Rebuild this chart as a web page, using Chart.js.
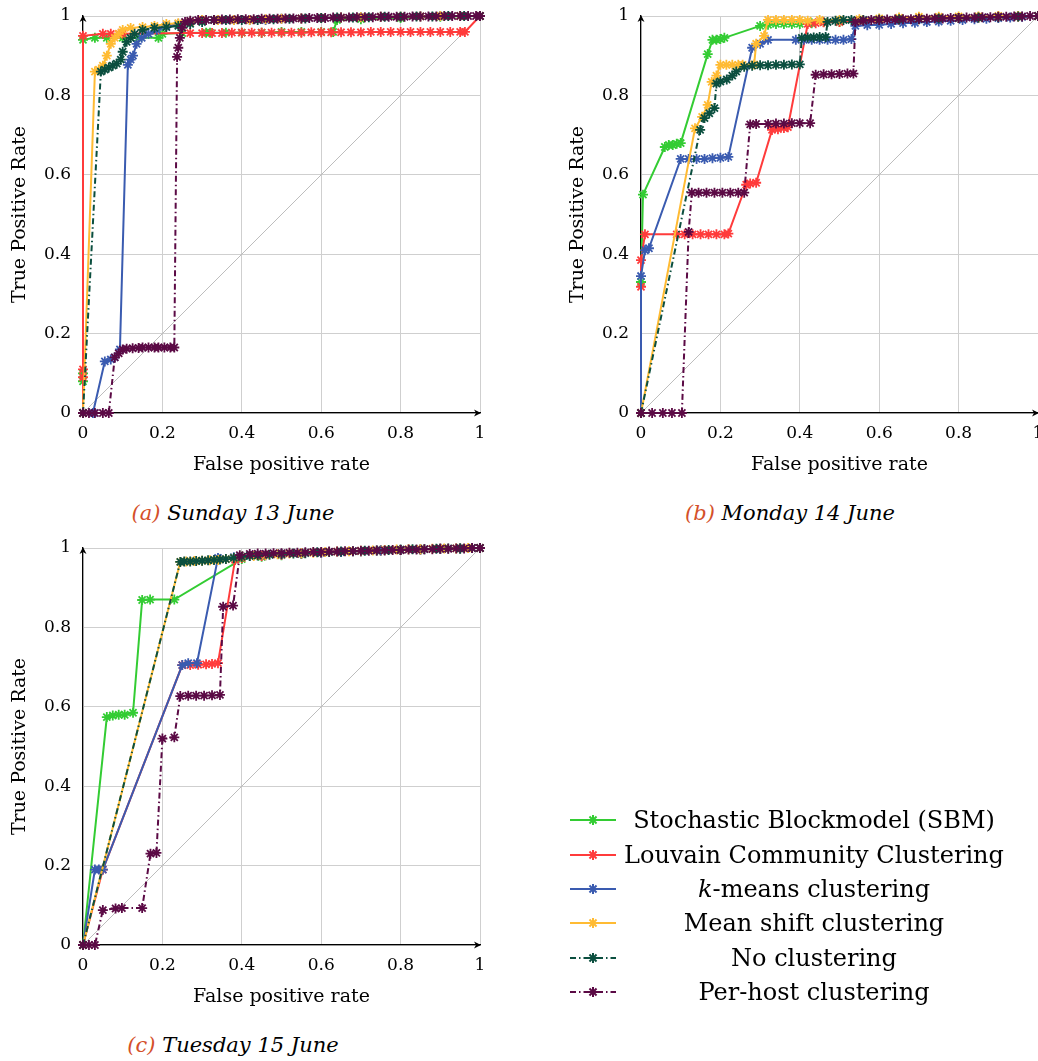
<!DOCTYPE html>
<html>
<head>
<meta charset="utf-8">
<script src="https://cdn.jsdelivr.net/npm/chart.js@4.4.0/dist/chart.umd.min.js"></script>
<style>
  body { margin: 0; background: #fff; font-family: "DejaVu Serif", serif; }
  #page { position: relative; width: 1038px; height: 1061px; overflow: hidden; }
  .plot { position: absolute; }
  .caption { position: absolute; width: 400px; text-align: center; font-style: italic; font-size: 21px; color: #000; }
  .caption span { color: #d4502a; }
  #legend { position: absolute; left: 560px; top: 803px; width: 448px; }
  .row { height: 34.4px; display: flex; align-items: center; }
  .row canvas { width: 60px; height: 20px; }
  .row .txt { flex: 1; text-align: center; font-size: 24px; color: #000; white-space: nowrap; }
</style>
</head>
<body>
<div id="page">
  <canvas id="sun" class="plot" width="500" height="480" style="left:0;top:0"></canvas>
  <canvas id="mon" class="plot" width="480" height="480" style="left:558px;top:0"></canvas>
  <canvas id="tue" class="plot" width="500" height="480" style="left:0;top:532px"></canvas>
  <div class="caption" style="left:33px;top:501px"><span>(a)</span> Sunday 13 June</div>
  <div class="caption" style="left:590px;top:501px"><span>(b)</span> Monday 14 June</div>
  <div class="caption" style="left:33px;top:1033px"><span>(c)</span> Tuesday 15 June</div>
  <div id="legend"></div>
</div>
<script>
// series names, in legend order
const seriesNames = ['Stochastic Blockmodel (SBM)', 'Louvain Community Clustering', 'k-means clustering',
  'Mean shift clustering', 'No clustering', 'Per-host clustering'];
const tickLabels = ['0', '0.2', '0.4', '0.6', '0.8', '1'];
const diagonal = [[0, 0], [1, 1]];

// (a) Sunday 13 June  -- [false positive rate, true positive rate]
const sunSBM = [[0,0],[0,0.08],[0,0.1],[0,0.94],[0.03,0.945],[0.06,0.945],[0.1,0.945],[0.14,0.945],[0.19,0.945],
  [0.2,0.955],[0.25,0.957],[0.31,0.958],[0.32,0.958],[0.36,0.958],[0.4,0.958],[0.45,0.958],[0.5,0.96],[0.55,0.96],
  [0.6,0.96],[0.63,0.96],[0.64,0.99],[0.7,0.992],[0.8,0.995],[0.9,0.998],[1,1]];
const sunLouvain = [[0,0],[0,0.09],[0,0.11],[0,0.95],[0.05,0.955],[0.07,0.955],[0.09,0.955],[0.1,0.955],[0.27,0.957],
  [0.3,0.957],[0.325,0.957],[0.35,0.957],[0.375,0.958],[0.4,0.958],[0.425,0.958],[0.45,0.958],[0.475,0.958],[0.5,0.958],
  [0.525,0.958],[0.55,0.958],[0.575,0.959],[0.6,0.959],[0.625,0.959],[0.65,0.959],[0.675,0.959],[0.7,0.959],[0.725,0.96],
  [0.75,0.96],[0.775,0.96],[0.8,0.96],[0.825,0.96],[0.85,0.96],[0.875,0.96],[0.9,0.96],[0.925,0.96],[0.95,0.96],
  [0.962,0.96],[1,1]];
const sunKmeans = [[0,0],[0.025,0],[0.055,0.13],[0.07,0.135],[0.08,0.14],[0.093,0.16],[0.113,0.877],[0.12,0.89],
  [0.126,0.9],[0.135,0.93],[0.148,0.945],[0.165,0.955],[0.186,0.965],[0.21,0.975],[0.24,0.98],[0.27,0.985],[0.3,0.99],
  [0.34,0.99],[0.38,0.99],[0.42,0.99],[0.46,0.99],[0.5,0.993],[0.55,0.994],[0.6,0.995],[0.65,0.996],[0.7,0.997],
  [0.75,0.998],[0.8,0.998],[0.85,0.999],[0.9,1],[0.95,1],[1,1]];
const sunMean = [[0,0],[0.03,0.86],[0.04,0.865],[0.05,0.875],[0.06,0.9],[0.07,0.93],[0.08,0.945],[0.09,0.955],
  [0.1,0.965],[0.12,0.97],[0.15,0.972],[0.18,0.975],[0.21,0.98],[0.24,0.982],[0.27,0.985],[0.3,0.99],[0.34,0.99],
  [0.38,0.99],[0.42,0.99],[0.46,0.992],[0.5,0.993],[0.55,0.994],[0.6,0.995],[0.65,0.996],[0.7,0.997],[0.75,0.998],
  [0.8,0.998],[0.85,0.999],[0.9,1],[0.95,1],[1,1]];
const sunNone = [[0,0],[0.045,0.86],[0.055,0.865],[0.065,0.87],[0.075,0.875],[0.085,0.88],[0.095,0.89],[0.1,0.91],
  [0.11,0.935],[0.12,0.945],[0.13,0.955],[0.15,0.965],[0.18,0.97],[0.21,0.972],[0.24,0.975],[0.27,0.98],[0.3,0.985],
  [0.33,0.99],[0.36,0.99],[0.4,0.99],[0.44,0.99],[0.48,0.992],[0.52,0.993],[0.56,0.994],[0.6,0.995],[0.64,0.996],
  [0.68,0.996],[0.72,0.997],[0.76,0.998],[0.8,0.998],[0.84,0.999],[0.88,0.999],[0.92,1],[0.96,1],[1,1]];
const sunPerHost = [[0,0],[0.015,0],[0.03,0],[0.05,0],[0.065,0],[0.08,0.14],[0.09,0.15],[0.1,0.16],[0.11,0.162],
  [0.125,0.163],[0.14,0.164],[0.15,0.165],[0.165,0.165],[0.18,0.165],[0.19,0.165],[0.205,0.165],[0.22,0.165],
  [0.23,0.165],[0.237,0.897],[0.24,0.92],[0.244,0.945],[0.25,0.97],[0.257,0.985],[0.27,0.988],[0.29,0.99],[0.31,0.99],
  [0.33,0.99],[0.35,0.991],[0.37,0.991],[0.39,0.992],[0.41,0.992],[0.43,0.992],[0.45,0.993],[0.47,0.993],[0.49,0.993],
  [0.51,0.994],[0.53,0.994],[0.55,0.994],[0.57,0.995],[0.59,0.995],[0.61,0.995],[0.63,0.996],[0.65,0.996],[0.67,0.996],
  [0.69,0.997],[0.71,0.997],[0.73,0.997],[0.75,0.998],[0.77,0.998],[0.79,0.998],[0.81,0.998],[0.83,0.999],[0.85,0.999],
  [0.87,0.999],[0.89,0.999],[0.91,1],[0.93,1],[0.95,1],[0.97,1],[0.99,1],[1,1]];

// (b) Monday 14 June
const monSBM = [[0,0],[0,0.33],[0.005,0.55],[0.06,0.67],[0.07,0.675],[0.08,0.675],[0.09,0.678],[0.1,0.68],
  [0.168,0.904],[0.18,0.94],[0.19,0.94],[0.2,0.942],[0.21,0.945],[0.3,0.975],[0.32,0.978],[0.34,0.98],[0.36,0.98],
  [0.38,0.98],[0.4,0.98],[0.43,0.982],[0.46,0.985],[0.5,0.985],[0.55,0.987],[0.6,0.99],[0.65,0.99],[0.7,0.992],
  [0.75,0.994],[0.8,0.995],[0.85,0.996],[0.9,0.998],[0.95,0.999],[1,1]];
const monLouvain = [[0,0],[0,0.318],[0,0.385],[0.01,0.45],[0.09,0.45],[0.11,0.45],[0.13,0.45],[0.15,0.45],
  [0.17,0.45],[0.19,0.45],[0.21,0.45],[0.22,0.452],[0.265,0.575],[0.275,0.578],[0.29,0.58],[0.33,0.713],
  [0.345,0.715],[0.36,0.718],[0.37,0.72],[0.42,0.98],[0.44,0.982],[0.46,0.984],[0.5,0.985],[0.55,0.987],[0.6,0.988],
  [0.65,0.99],[0.7,0.992],[0.75,0.993],[0.8,0.995],[0.85,0.996],[0.9,0.997],[0.95,0.999],[1,1]];
const monKmeans = [[0,0],[0,0.345],[0.01,0.41],[0.02,0.415],[0.1,0.64],[0.12,0.64],[0.14,0.64],[0.16,0.64],
  [0.18,0.642],[0.2,0.643],[0.22,0.645],[0.28,0.92],[0.3,0.93],[0.32,0.94],[0.39,0.94],[0.41,0.94],[0.43,0.94],
  [0.45,0.94],[0.47,0.94],[0.49,0.94],[0.51,0.94],[0.53,0.942],[0.54,0.975],[0.57,0.977],[0.6,0.978],[0.63,0.98],
  [0.66,0.982],[0.69,0.983],[0.72,0.985],[0.75,0.986],[0.78,0.988],[0.81,0.99],[0.84,0.992],[0.87,0.993],[0.9,0.995],
  [0.93,0.996],[0.96,0.998],[1,1]];
const monMean = [[0,0],[0.136,0.717],[0.154,0.746],[0.168,0.776],[0.178,0.834],[0.19,0.85],[0.2,0.877],[0.215,0.877],
  [0.23,0.877],[0.245,0.877],[0.256,0.877],[0.285,0.878],[0.29,0.93],[0.31,0.95],[0.32,0.99],[0.34,0.99],[0.36,0.99],
  [0.38,0.99],[0.4,0.99],[0.42,0.988],[0.45,0.99],[0.5,0.99],[0.55,0.992],[0.6,0.994],[0.65,0.996],[0.7,0.998],
  [0.75,0.998],[0.8,0.999],[0.85,0.999],[0.9,1],[0.95,1],[1,1]];
const monNone = [[0,0],[0.149,0.713],[0.16,0.743],[0.172,0.755],[0.185,0.768],[0.19,0.83],[0.2,0.835],[0.216,0.84],
  [0.23,0.85],[0.24,0.86],[0.26,0.872],[0.28,0.875],[0.3,0.876],[0.32,0.876],[0.34,0.877],[0.36,0.877],[0.38,0.878],
  [0.4,0.878],[0.405,0.945],[0.42,0.946],[0.435,0.946],[0.45,0.947],[0.465,0.947],[0.47,0.985],[0.49,0.988],[0.51,0.99],
  [0.53,0.99],[0.56,0.99],[0.6,0.991],[0.65,0.992],[0.7,0.993],[0.75,0.994],[0.8,0.995],[0.85,0.996],[0.9,0.997],
  [0.95,0.999],[1,1]];
const monPerHost = [[0,0],[0.028,0],[0.055,0],[0.078,0],[0.103,0],[0.12,0.456],[0.128,0.555],[0.145,0.555],
  [0.165,0.555],[0.185,0.555],[0.205,0.555],[0.225,0.555],[0.245,0.555],[0.26,0.555],[0.275,0.727],[0.29,0.728],
  [0.32,0.728],[0.34,0.729],[0.36,0.729],[0.38,0.73],[0.4,0.73],[0.426,0.73],[0.44,0.852],[0.46,0.853],[0.48,0.853],
  [0.5,0.854],[0.52,0.855],[0.535,0.855],[0.54,0.985],[0.56,0.988],[0.58,0.99],[0.6,0.99],[0.62,0.991],[0.64,0.991],
  [0.66,0.992],[0.68,0.992],[0.7,0.993],[0.72,0.993],[0.74,0.994],[0.76,0.994],[0.78,0.995],[0.8,0.995],[0.82,0.996],
  [0.84,0.996],[0.86,0.997],[0.88,0.997],[0.9,0.998],[0.92,0.998],[0.94,0.999],[0.96,0.999],[0.98,1],[1,1]];

// (c) Tuesday 15 June
const tueSBM = [[0,0],[0.06,0.574],[0.075,0.578],[0.09,0.58],[0.105,0.58],[0.126,0.585],[0.149,0.869],[0.169,0.87],
  [0.23,0.87],[0.4,0.972],[0.45,0.978],[0.5,0.982],[0.55,0.985],[0.6,0.988],[0.65,0.99],[0.7,0.992],[0.75,0.994],
  [0.8,0.995],[0.85,0.996],[0.9,0.998],[0.95,0.999],[1,1]];
const tueLouvain = [[0,0],[0.05,0.19],[0.25,0.705],[0.27,0.705],[0.29,0.706],[0.31,0.707],[0.325,0.708],[0.34,0.71],
  [0.383,0.97],[0.4,0.975],[0.45,0.98],[0.5,0.983],[0.55,0.986],[0.6,0.988],[0.65,0.99],[0.7,0.992],[0.75,0.994],
  [0.8,0.995],[0.85,0.996],[0.9,0.998],[0.95,0.999],[1,1]];
const tueKmeans = [[0,0],[0.03,0.19],[0.04,0.19],[0.05,0.19],[0.25,0.705],[0.265,0.71],[0.287,0.71],[0.34,0.975],
  [0.38,0.977],[0.42,0.98],[0.46,0.982],[0.5,0.984],[0.55,0.986],[0.6,0.988],[0.65,0.99],[0.7,0.992],[0.75,0.994],
  [0.8,0.995],[0.85,0.996],[0.9,0.998],[0.95,0.999],[1,1]];
const tueMean = [[0,0],[0.245,0.965],[0.26,0.966],[0.28,0.967],[0.3,0.968],[0.32,0.969],[0.34,0.97],[0.36,0.972],
  [0.38,0.975],[0.4,0.978],[0.43,0.98],[0.46,0.982],[0.49,0.984],[0.52,0.986],[0.55,0.987],[0.58,0.988],[0.61,0.99],
  [0.64,0.991],[0.67,0.992],[0.7,0.993],[0.73,0.994],[0.76,0.995],[0.79,0.996],[0.82,0.997],[0.85,0.997],[0.88,0.998],
  [0.91,0.999],[0.94,0.999],[0.97,1],[1,1]];
const tueNone = [[0,0],[0.245,0.965],[0.255,0.966],[0.27,0.966],[0.285,0.967],[0.3,0.968],[0.315,0.969],[0.33,0.97],
  [0.345,0.971],[0.36,0.972],[0.38,0.975],[0.4,0.978],[0.42,0.98],[0.44,0.981],[0.47,0.983],[0.5,0.985],[0.53,0.986],
  [0.56,0.987],[0.59,0.989],[0.62,0.99],[0.65,0.991],[0.68,0.992],[0.71,0.993],[0.74,0.994],[0.77,0.995],[0.8,0.996],
  [0.83,0.997],[0.86,0.997],[0.89,0.998],[0.92,0.999],[0.95,0.999],[0.98,1],[1,1]];
const tuePerHost = [[0,0],[0.015,0],[0.03,0],[0.05,0.088],[0.082,0.092],[0.098,0.093],[0.149,0.093],[0.17,0.23],
  [0.185,0.232],[0.2,0.52],[0.23,0.523],[0.245,0.627],[0.265,0.628],[0.285,0.628],[0.305,0.628],[0.325,0.629],
  [0.345,0.63],[0.353,0.852],[0.378,0.855],[0.395,0.982],[0.42,0.985],[0.44,0.986],[0.46,0.986],[0.48,0.987],
  [0.5,0.987],[0.52,0.988],[0.54,0.988],[0.56,0.989],[0.58,0.99],[0.6,0.99],[0.62,0.991],[0.64,0.991],[0.66,0.992],
  [0.68,0.992],[0.7,0.993],[0.72,0.993],[0.74,0.994],[0.76,0.994],[0.78,0.995],[0.8,0.995],[0.82,0.996],[0.84,0.996],
  [0.86,0.997],[0.88,0.997],[0.9,0.998],[0.92,0.998],[0.94,0.999],[0.96,0.999],[0.98,1],[1,1]];

// look of each series (same order as seriesNames)
const colors = ['#33cc33', '#ff3b3b', '#3a5bb0', '#ffbb33', '#0b4f3f', '#5b0a45'];
const dashes = [[], [], [], [], [6, 3, 1.5, 3], [6, 3, 1.5, 3]];
const FONT = '"DejaVu Serif", serif';

const axisArrows = {
  id: 'axisArrows',
  afterDraw(chart) {
    const { ctx, chartArea: a } = chart;
    ctx.save();
    ctx.fillStyle = '#000';
    ctx.beginPath();
    ctx.moveTo(a.left, a.top - 1);
    ctx.lineTo(a.left - 3.5, a.top + 6);
    ctx.lineTo(a.left, a.top + 4);
    ctx.lineTo(a.left + 3.5, a.top + 6);
    ctx.closePath();
    ctx.fill();
    ctx.beginPath();
    ctx.moveTo(a.right + 1, a.bottom);
    ctx.lineTo(a.right - 6, a.bottom - 3.5);
    ctx.lineTo(a.right - 4, a.bottom);
    ctx.lineTo(a.right - 6, a.bottom + 3.5);
    ctx.closePath();
    ctx.fill();
    ctx.restore();
  }
};

function drawRoc(id, data, padRight) {
  const datasets = data.map((d, i) => ({
    label: seriesNames[i],
    data: d.map(p => ({ x: p[0], y: p[1] })),
    showLine: true,
    borderColor: colors[i],
    backgroundColor: colors[i],
    borderWidth: 2,
    borderDash: dashes[i],
    pointStyle: 'star',
    pointRadius: 5,
    pointBorderWidth: 1.8,
    tension: 0,
    clip: false,
    order: data.length - i
  }));
  datasets.push({
    label: 'diagonal',
    data: diagonal.map(p => ({ x: p[0], y: p[1] })),
    showLine: true,
    borderColor: '#bdbdbd',
    borderWidth: 1,
    pointRadius: 0,
    order: 20
  });

  new Chart(document.getElementById(id), {
    type: 'scatter',
    data: { datasets },
    plugins: [axisArrows],
    options: {
      responsive: false,
      animation: false,
      layout: { autoPadding: false, padding: { left: 0, right: padRight, top: 16, bottom: 0 } },
      plugins: { legend: { display: false }, tooltip: { enabled: false } },
      scales: {
        x: {
          type: 'linear', min: 0, max: 1,
          grid: { color: '#cfcfcf', drawTicks: false },
          border: { color: '#000', width: 1.2 },
          ticks: { stepSize: 0.2, padding: 10, maxRotation: 0, color: '#000',
            font: { family: FONT, size: 17 }, callback: (v, i) => tickLabels[i] },
          title: { display: true, text: 'False positive rate', color: '#000',
            font: { family: FONT, size: 19 }, padding: { top: 4, bottom: 4 } },
          afterFit: s => { s.height = 67; s.paddingLeft = 0; s.paddingRight = 0; }
        },
        y: {
          type: 'linear', min: 0, max: 1,
          grid: { color: '#cfcfcf', drawTicks: false },
          border: { color: '#000', width: 1.2 },
          ticks: { stepSize: 0.2, padding: 12, color: '#000',
            font: { family: FONT, size: 17 }, callback: (v, i) => tickLabels[i] },
          title: { display: true, text: 'True Positive Rate', color: '#000',
            font: { family: FONT, size: 19 }, padding: { top: 9, bottom: 4 } },
          afterFit: s => { s.width = 83; s.paddingTop = 0; s.paddingBottom = 0; }
        }
      }
    }
  });
}

drawRoc('sun', [sunSBM, sunLouvain, sunKmeans, sunMean, sunNone, sunPerHost], 20);
drawRoc('mon', [monSBM, monLouvain, monKmeans, monMean, monNone, monPerHost], 0);
drawRoc('tue', [tueSBM, tueLouvain, tueKmeans, tueMean, tueNone, tuePerHost], 20);

// legend: sample line + star, centred name
const legend = document.getElementById('legend');
seriesNames.forEach((name, i) => {
  const row = document.createElement('div');
  row.className = 'row';
  const c = document.createElement('canvas');
  c.width = 60; c.height = 20;
  const ctx = c.getContext('2d');
  ctx.strokeStyle = colors[i];
  ctx.lineWidth = 2;
  ctx.setLineDash(dashes[i]);
  ctx.beginPath(); ctx.moveTo(10, 10); ctx.lineTo(56, 10); ctx.stroke();
  ctx.setLineDash([]);
  Chart.helpers.drawPoint(ctx, { pointStyle: 'star', radius: 5, borderWidth: 1.8, rotation: 0 }, 33, 10);
  const t = document.createElement('div');
  t.className = 'txt';
  if (name.startsWith('k-')) {
    t.innerHTML = '<i>k</i>' + name.slice(1);
  } else {
    t.textContent = name;
  }
  row.appendChild(c);
  row.appendChild(t);
  legend.appendChild(row);
});
</script>
</body>
</html>
